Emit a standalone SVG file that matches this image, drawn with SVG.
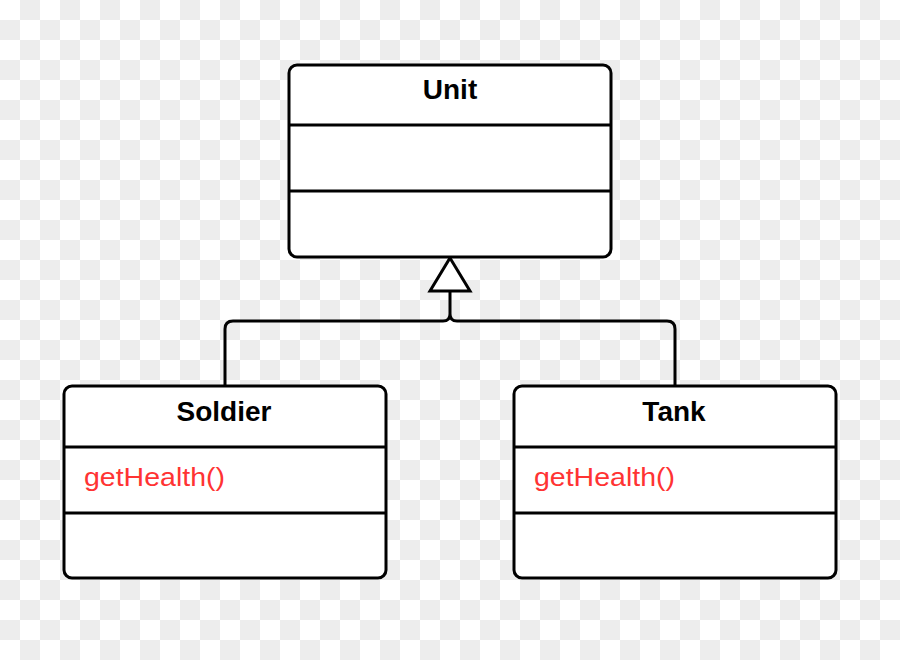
<svg xmlns="http://www.w3.org/2000/svg" width="900" height="660" viewBox="0 0 900 660">
  <defs>
    <pattern id="checker" x="0" y="0" width="40" height="40" patternUnits="userSpaceOnUse">
      <rect width="40" height="40" fill="#ffffff"/>
      <rect x="20" y="0" width="20" height="20" fill="#ededed"/>
      <rect x="0" y="20" width="20" height="20" fill="#ededed"/>
    </pattern>
  </defs>
  <style>
    .box { fill: #ffffff; stroke: #000000; stroke-width: 3; }
    .div { stroke: #000000; stroke-width: 3; }
    .title { font-family: "Liberation Sans", Arial, sans-serif; font-weight: bold; font-size: 28px; fill: #000000; text-anchor: middle; }
    .method { font-family: "Liberation Sans", Arial, sans-serif; font-size: 26px; fill: #ff3333; }
    .conn { fill: none; stroke: #000000; stroke-width: 3; }
  </style>
  <rect width="900" height="660" fill="url(#checker)"/>

  <g id="connectors">
    <path class="conn" d="M225,385 L225,329 Q225,321 233,321 L443,321 Q450,321 450,314 L450,291 M675,385 L675,329 Q675,321 667,321 L457,321 Q450,321 450,314"/>
    <polygon class="conn" points="450,258 470,291 430,291" fill="#ffffff" style="fill:#ffffff"/>
  </g>

  <g id="unit">
    <rect class="box" x="289" y="65" width="322" height="192" rx="8"/>
    <line class="div" x1="289" y1="125" x2="611" y2="125"/>
    <line class="div" x1="289" y1="191" x2="611" y2="191"/>
    <text class="title" x="450" y="99">Unit</text>
  </g>

  <g id="soldier">
    <rect class="box" x="64" y="386" width="322" height="192" rx="8"/>
    <line class="div" x1="64" y1="447" x2="386" y2="447"/>
    <line class="div" x1="64" y1="513" x2="386" y2="513"/>
    <text class="title" x="224" y="421">Soldier</text>
    <text class="method" x="84" y="486" textLength="141" lengthAdjust="spacingAndGlyphs">getHealth()</text>
  </g>

  <g id="tank">
    <rect class="box" x="514" y="386" width="322" height="192" rx="8"/>
    <line class="div" x1="514" y1="447" x2="836" y2="447"/>
    <line class="div" x1="514" y1="513" x2="836" y2="513"/>
    <text class="title" x="674" y="421">Tank</text>
    <text class="method" x="534" y="486" textLength="141" lengthAdjust="spacingAndGlyphs">getHealth()</text>
  </g>
</svg>
